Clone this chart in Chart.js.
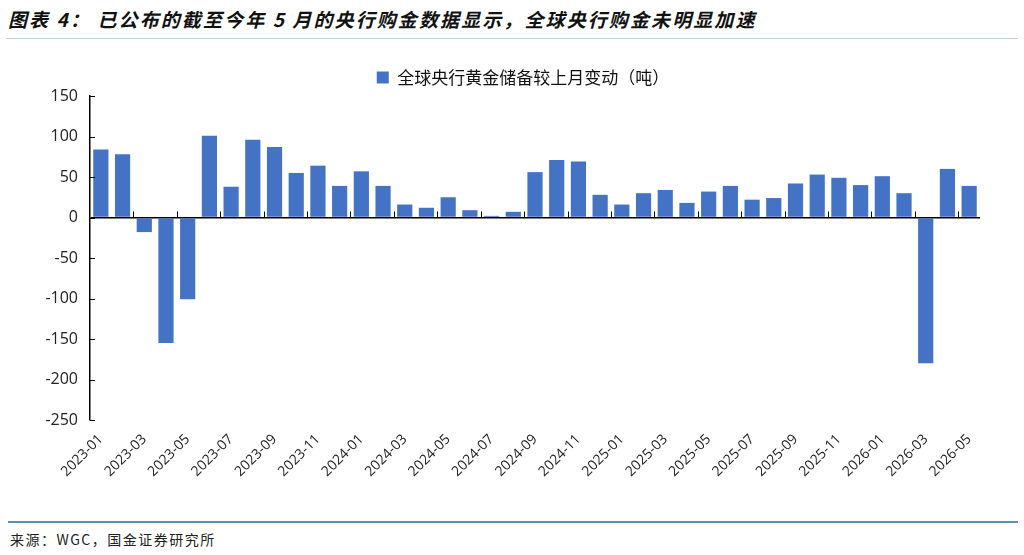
<!DOCTYPE html>
<html>
<head>
<meta charset="utf-8">
<script src="https://cdn.jsdelivr.net/npm/chart.js@4"></script>
<style>
  body { margin: 0; width: 1024px; height: 555px; background: #fff; position: relative; overflow: hidden; font-family: "Noto Sans CJK SC", sans-serif; }
  #title { position: absolute; left: 8px; top: 5px; font-size: 19px; font-weight: bold; font-style: italic; letter-spacing: 2.1px; color: #111; white-space: nowrap; }
  #topLine { position: absolute; left: 6px; right: 6px; top: 38px; height: 1px; background: #b9d3de; }
  #wrap { position: absolute; left: 0; top: 55px; width: 1024px; height: 450px; }
  #bottomLine { position: absolute; left: 8px; right: 6px; top: 521px; height: 2px; background: #5b8fae; }
  #source { position: absolute; left: 10px; top: 529px; font-size: 14px; letter-spacing: 1.5px; color: #222; white-space: nowrap; }
</style>
</head>
<body>
<div id="title">图表 4：&nbsp;已公布的截至今年 5 月的央行购金数据显示，全球央行购金未明显加速</div>
<div id="topLine"></div>
<div id="wrap"><canvas id="gold"></canvas></div>
<div id="bottomLine"></div>
<div id="source">来源：WGC，国金证券研究所</div>
<script>
const months = [
  '2023-01','2023-02','2023-03','2023-04','2023-05','2023-06','2023-07','2023-08','2023-09','2023-10','2023-11','2023-12',
  '2024-01','2024-02','2024-03','2024-04','2024-05','2024-06','2024-07','2024-08','2024-09','2024-10','2024-11','2024-12',
  '2025-01','2025-02','2025-03','2025-04','2025-05','2025-06','2025-07','2025-08','2025-09','2025-10','2025-11','2025-12',
  '2026-01','2026-02','2026-03','2026-04','2026-05'
]
const changeTons = [
  84, 78, -18, -155, -101, 101, 38, 96, 87, 55, 64, 39,
  57, 39, 16, 12, 25, 9, 2, 7, 56, 71, 69, 28,
  16, 30, 34, 18, 32, 39, 22, 24, 42, 53, 49, 40,
  51, 30, -180, 60, 39
]
const seriesName = '全球央行黄金储备较上月变动（吨）'
const yMin = -250
const yMax = 150
const yStep = 50

// small inward tick marks like the original excel chart
const tickMarks = {
  id: 'tickMarks',
  afterLayout(chart) {
    // legend in the original sits a bit right of centre
    const lg = chart.legend
    lg.left = 66
    lg.width = lg.right - lg.left
  },
  afterDraw(chart) {
    const ctx = chart.ctx
    const x = chart.scales.x
    const y = chart.scales.y
    const zero = y.getPixelForValue(0)
    ctx.save()
    ctx.strokeStyle = '#000'
    ctx.lineWidth = 1
    y.ticks.forEach(t => {
      const py = Math.round(y.getPixelForValue(t.value)) + 0.5
      ctx.beginPath()
      ctx.moveTo(chart.chartArea.left, py)
      ctx.lineTo(chart.chartArea.left + 5, py)
      ctx.stroke()
    })
    const w = x.getPixelForValue(1) - x.getPixelForValue(0)
    for (let i = 2; i < months.length; i += 2) {
      const px = Math.round(x.getPixelForValue(i) - w / 2) + 0.5
      ctx.beginPath()
      ctx.moveTo(px, zero)
      ctx.lineTo(px, zero - 6)
      ctx.stroke()
    }
    ctx.restore()
  }
}

new Chart(document.getElementById('gold'), {
  type: 'bar',
  data: {
    labels: months,
    datasets: [{
      label: seriesName,
      data: changeTons,
      backgroundColor: '#4472c4',
      barPercentage: 0.7,
      categoryPercentage: 1
    }]
  },
  options: {
    responsive: true,
    maintainAspectRatio: false,
    animation: false,
    layout: { padding: { left: 0, right: 44, top: 0, bottom: 0 } },
    plugins: {
      legend: {
        position: 'top',
        labels: {
          boxWidth: 12,
          boxHeight: 12,
          padding: 14,
          color: '#111',
          font: { family: '"Noto Sans CJK SC"', size: 17 }
        }
      },
      tooltip: { enabled: false }
    },
    scales: {
      x: {
        grid: { display: false },
        border: { display: false },
        ticks: {
          autoSkip: false,
          minRotation: 45,
          maxRotation: 45,
          color: '#222',
          font: { family: '"Open Sans"', size: 14 },
          callback: function (v, i) { return i % 2 === 0 ? months[i] : '' }
        },
        afterFit: function (s) { s.height = 85 }
      },
      y: {
        min: yMin,
        max: yMax,
        ticks: {
          stepSize: yStep,
          color: '#222',
          padding: 12,
          font: { family: '"Open Sans"', size: 16 }
        },
        grid: {
          drawTicks: false,
          lineWidth: 1.5,
          color: c => c.tick && c.tick.value === 0 ? '#000' : 'rgba(0,0,0,0)'
        },
        border: { display: true, color: '#000', width: 1.5 },
        afterFit: function (s) { s.width = 90 }
      }
    }
  },
  plugins: [tickMarks]
})
</script>
</body>
</html>
